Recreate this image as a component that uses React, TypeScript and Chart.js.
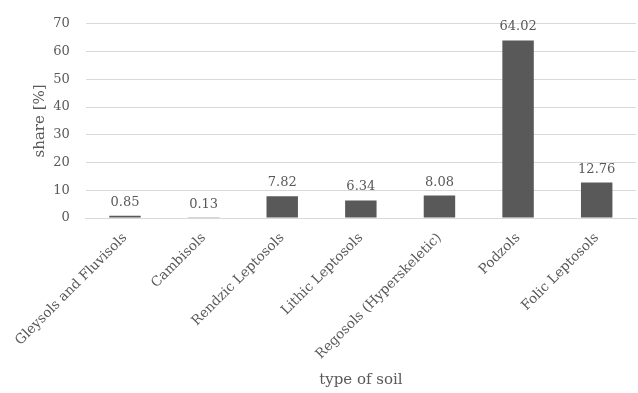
import React, { useEffect, useRef } from "react";
import { Chart, registerables } from "chart.js";

Chart.register(...registerables);

const categories = [
  "Gleysols and Fluvisols",
  "Cambisols",
  "Rendzic Leptosols",
  "Lithic Leptosols",
  "Regosols (Hyperskeletic)",
  "Podzols",
  "Folic Leptosols",
];
const shares = [0.85, 0.13, 7.82, 6.34, 8.08, 64.02, 12.76];
const yTicksMin = 0;
const yTicksMax = 70;
const yTicksStep = 10;
const yTitle = "share [%]";
const xTitle = "type of soil";

const FONT = "'DejaVu Serif', serif";
const TEXT = "#595959";

const valueLabels = {
  id: "valueLabels",
  afterDatasetsDraw(chart: any) {
    const ctx = chart.ctx;
    const meta = chart.getDatasetMeta(0);
    ctx.save();
    ctx.font = `13px ${FONT}`;
    ctx.fillStyle = TEXT;
    ctx.textAlign = "center";
    ctx.textBaseline = "alphabetic";
    meta.data.forEach((bar: any, i: number) => {
      ctx.fillText(shares[i].toFixed(2), bar.x, bar.y - 10);
    });
    ctx.restore();
  },
};

export default function App() {
  const ref = useRef<HTMLCanvasElement | null>(null);
  useEffect(() => {
    if (!ref.current) return;
    const chart = new Chart(ref.current, {
      type: "bar",
      data: {
        labels: categories,
        datasets: [
          {
            data: shares,
            backgroundColor: "#595959",
            barPercentage: 0.4,
            categoryPercentage: 1,
          },
        ],
      },
      options: {
        animation: false,
        responsive: false,
        layout: { padding: { left: 22, right: 2, top: 22, bottom: 0 } },
        plugins: { legend: { display: false }, tooltip: { enabled: false } },
        scales: {
          x: {
            afterFit: (s: any) => {
              s.height = 175;
            },
            grid: { display: false, drawTicks: false },
            border: { color: "#d9d9d9", width: 1 },
            ticks: {
              color: TEXT,
              padding: 12,
              font: { family: FONT, size: 13.5 },
              maxRotation: 45,
              minRotation: 45,
              autoSkip: false,
            },
            title: {
              display: true,
              text: xTitle,
              color: TEXT,
              font: { family: FONT, size: 15 },
            },
          },
          y: {
            min: yTicksMin,
            max: yTicksMax,
            afterFit: (s: any) => {
              s.width = 59;
            },
            grid: { color: "#d9d9d9", drawTicks: false },
            border: { display: false },
            ticks: {
              stepSize: yTicksStep,
              padding: 16,
              color: TEXT,
              font: { family: FONT, size: 13 },
            },
            title: {
              display: true,
              text: yTitle,
              color: TEXT,
              font: { family: FONT, size: 15 },
            },
          },
        },
      },
      plugins: [valueLabels],
    });
    return () => chart.destroy();
  }, []);
  return (
    <div style={{ position: "fixed", left: 0, top: 0, width: 638, height: 393, background: "#fff" }}>
      <canvas ref={ref} width={638} height={393} />
    </div>
  );
}
